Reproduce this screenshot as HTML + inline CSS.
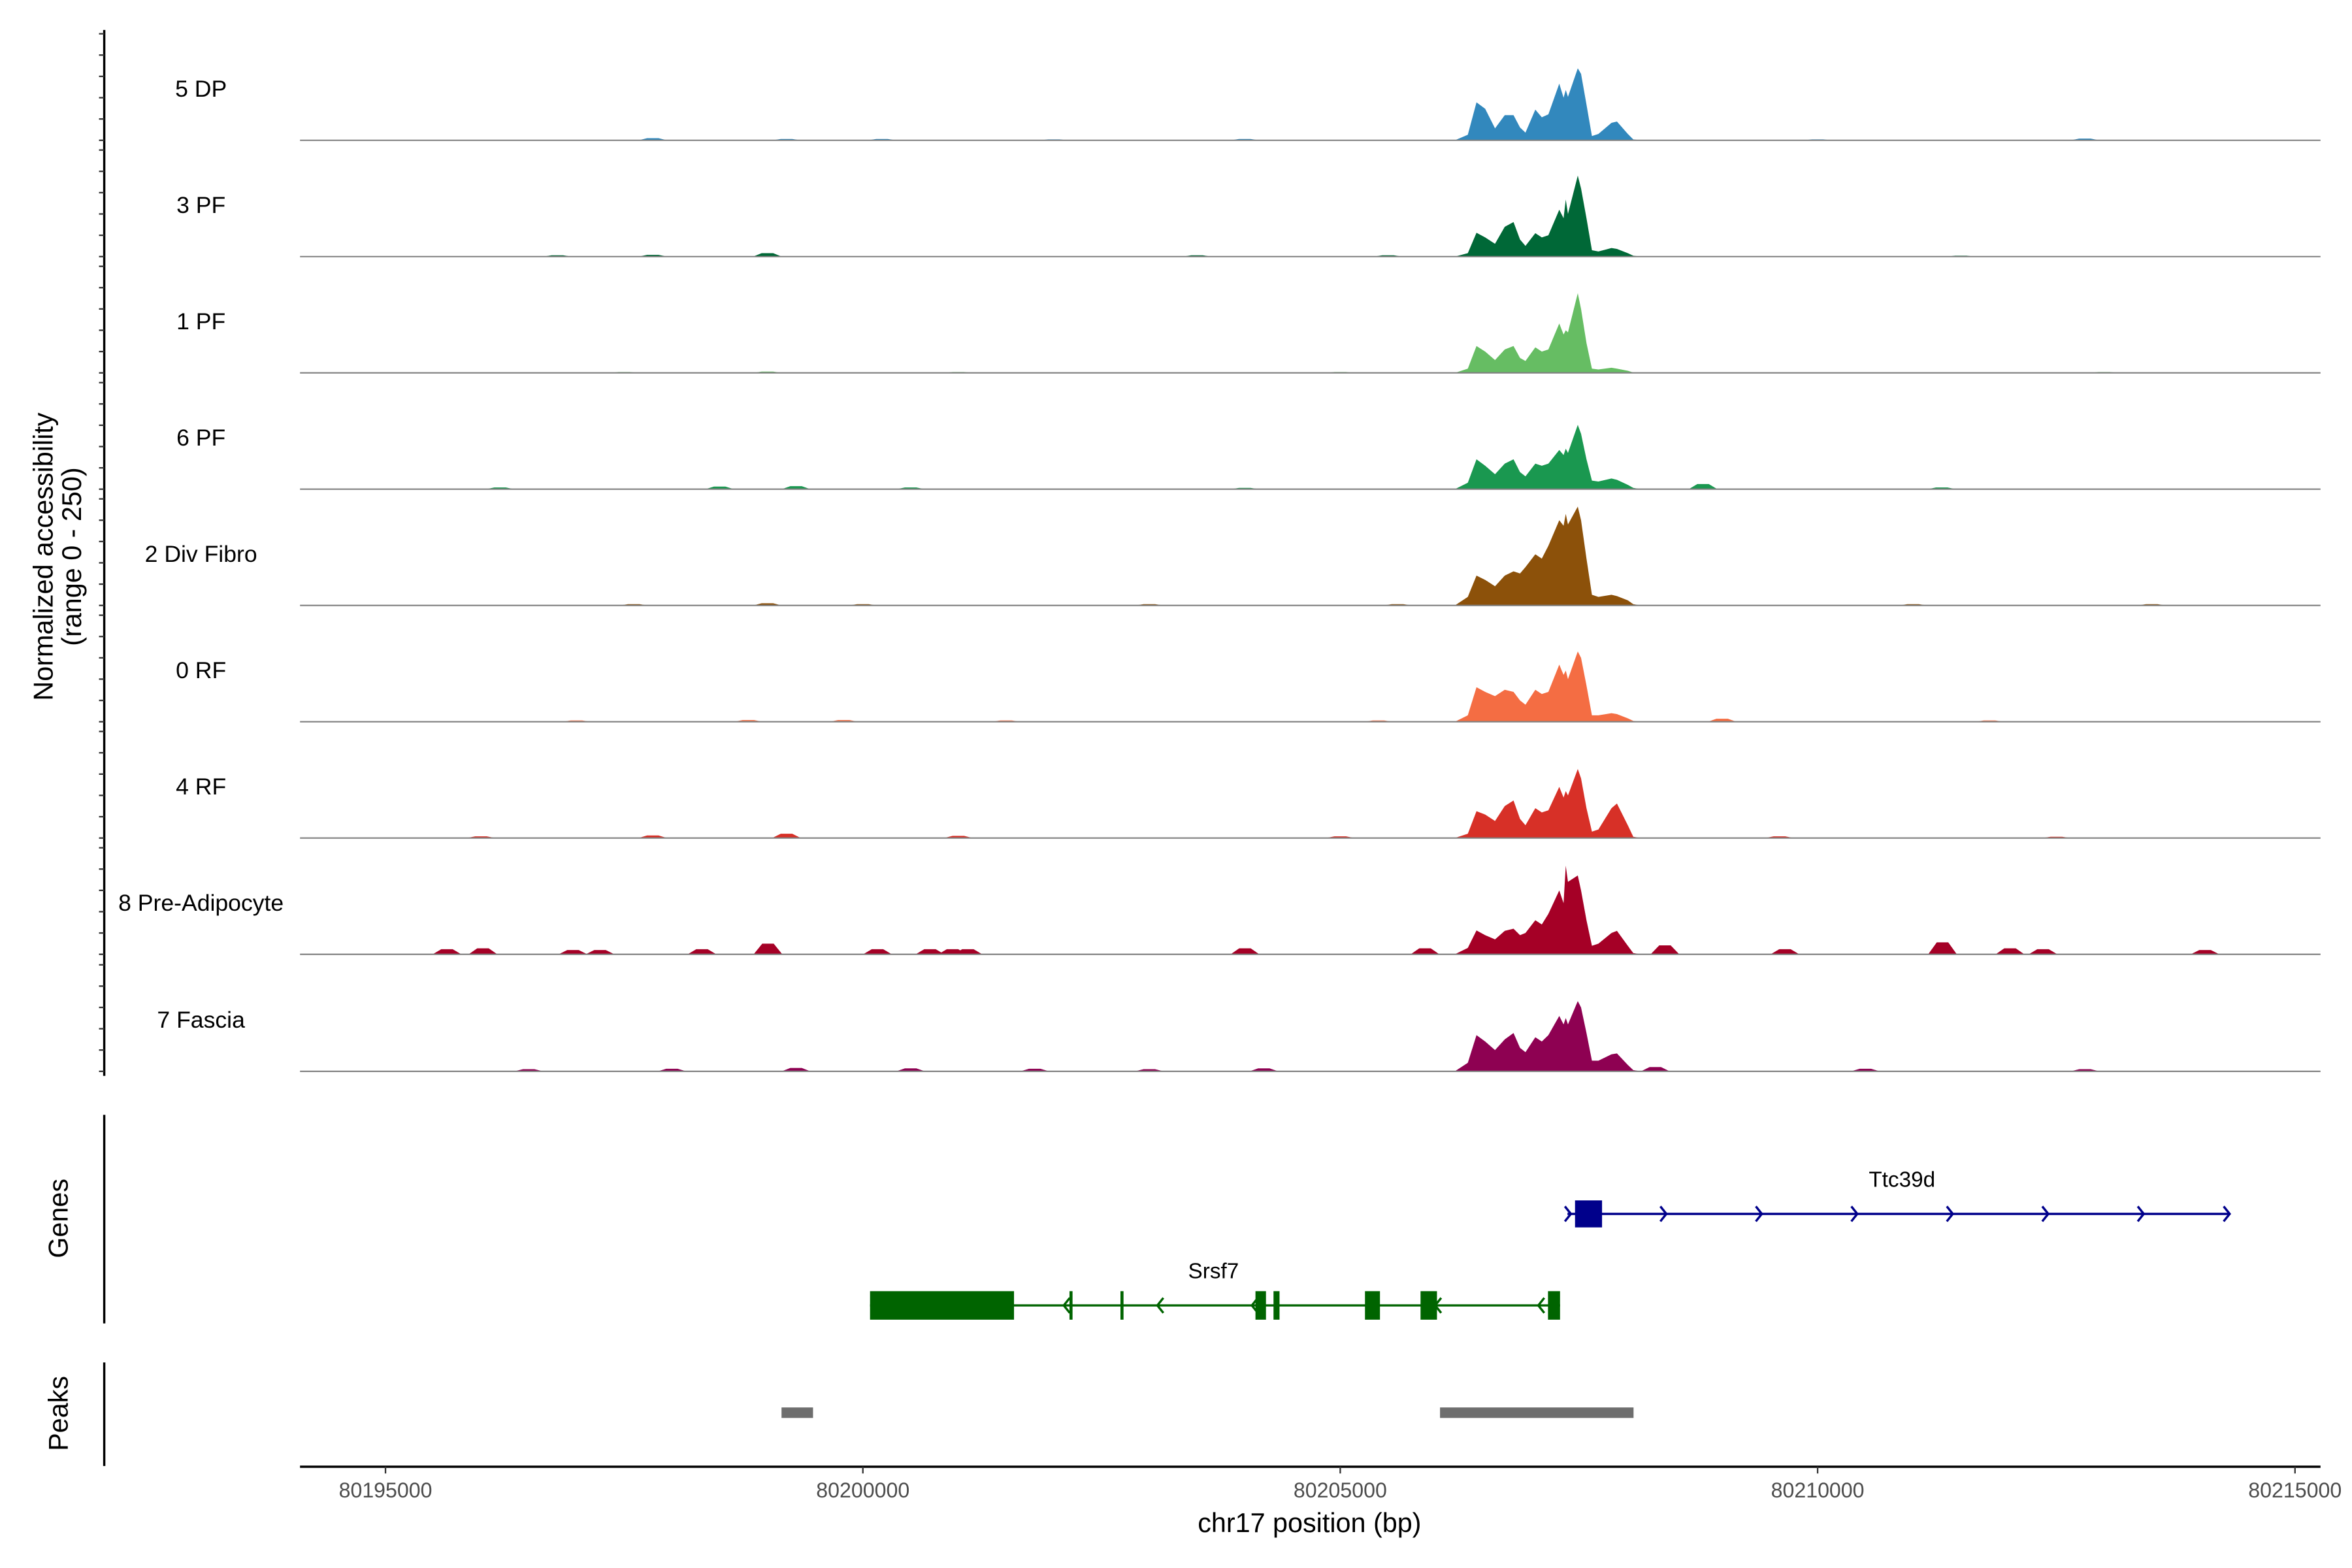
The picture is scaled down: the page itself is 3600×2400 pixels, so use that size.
<!DOCTYPE html>
<html><head><meta charset="utf-8"><style>
html,body{margin:0;padding:0;background:#fff;}
svg{display:block;font-family:"Liberation Sans",Arial,sans-serif;}
</style></head><body>
<svg id="chart" width="3600" height="2400" viewBox="0 0 1568 1045" preserveAspectRatio="none" xmlns="http://www.w3.org/2000/svg">
<rect width="1568" height="1045" fill="#fff"/>
<text transform="translate(35,371) rotate(-90)" text-anchor="middle" font-size="18" fill="#000">Normalized accessibility</text>
<text transform="translate(54,371) rotate(-90)" text-anchor="middle" font-size="18" fill="#000">(range 0 - 250)</text>
<line x1="69.5" y1="20" x2="69.5" y2="717" stroke="#000" stroke-width="1.5"/>
<text transform="translate(45,812) rotate(-90)" text-anchor="middle" font-size="18" fill="#000">Genes</text>
<line x1="69.5" y1="743" x2="69.5" y2="882" stroke="#000" stroke-width="1.5"/>
<text transform="translate(45,942) rotate(-90)" text-anchor="middle" font-size="18" fill="#000">Peaks</text>
<line x1="69.5" y1="908" x2="69.5" y2="977" stroke="#000" stroke-width="1.5"/>
<line x1="200" y1="977.5" x2="1547" y2="977.5" stroke="#000" stroke-width="1.5"/>
<text x="873" y="1021" text-anchor="middle" font-size="18" fill="#000">chr17 position (bp)</text>
<g id="tracks"></g>
<g id="genes"></g>
<g id="peaks"></g>
<g id="xaxis"></g>
</svg>
<script>
const trackNames = ["5 DP","3 PF","1 PF","6 PF","2 Div Fibro","0 RF","4 RF","8 Pre-Adipocyte","7 Fascia"];
const trackColors = ["#3288BD","#006837","#66BD63","#1A9850","#8C510A","#F46D43","#D73027","#A50026","#8E0152"];
const peakPos = [80206200,80206336,80206427,80206518,80206621,80206723,80206815,80206883,80206940,80207043,80207111,80207180,80207294,80207339,80207362,80207385,80207488,80207522,80207579,80207636,80207704,80207841,80207898,80208012,80208069,80208150];
const vals5DP = [0,13,89,74,28,59,59,30,18,72,54,61,133,100,118,102,169,156,84,10,15,41,44,15,2,0];
const vals3PF = [0,8,56,45,30,70,81,40,25,55,45,50,110,90,134,100,190,160,90,15,12,20,18,8,2,0];
const vals1PF = [0,10,63,50,30,55,63,35,28,60,50,55,116,90,100,95,187,150,70,10,8,12,10,5,1,0];
const vals6PF = [0,15,70,55,35,60,70,40,30,60,55,60,92,80,95,85,151,130,70,20,18,25,22,10,3,0];
const vals2Div = [0,20,70,60,45,70,80,75,90,120,110,140,200,187,215,190,232,200,110,25,20,25,22,12,3,0];
const vals0RF = [0,15,81,70,60,75,70,50,40,75,65,70,134,110,120,100,165,150,85,15,15,20,18,8,2,0];
const vals4RF = [0,10,63,55,40,75,88,45,30,70,60,65,120,95,110,100,162,140,70,15,20,70,81,30,3,0];
const vals8PA = [0,15,56,45,35,55,60,45,50,80,70,95,150,120,208,170,185,150,80,20,25,50,55,20,3,0];
const vals7Fa = [0,20,85,70,50,75,90,55,45,80,70,85,130,110,125,110,165,150,90,25,25,40,42,15,3,0];
const trackValues = [vals5DP,vals3PF,vals1PF,vals6PF,vals2Div,vals0RF,vals4RF,vals8PA,vals7Fa];
const bgPos5DP = [80197800,80199200,80200200,80202000,80204000,80210000,80212800];
const bgVal5DP = [5,3,3,2,3,2,4];
const bgPos3PF = [80196800,80197800,80199000,80203500,80205500,80211500];
const bgVal3PF = [3,4,8,3,3,2];
const bgPos1PF = [80197500,80199000,80201000,80205000,80213000];
const bgVal1PF = [2,3,2,2,2];
const bgPos6PF = [80196200,80198500,80199300,80200500,80204000,80208800,80211300];
const bgVal6PF = [4,6,7,4,3,12,4];
const bgPos2Div = [80197600,80199000,80200000,80203000,80205600,80211000,80213500];
const bgVal2Div = [3,5,3,3,3,3,3];
const bgPos0RF = [80197000,80198800,80199800,80201500,80205400,80209000,80211800];
const bgVal0RF = [3,4,4,3,3,7,3];
const bgPos4RF = [80196000,80197800,80199200,80201000,80205000,80209600,80212500];
const bgVal4RF = [4,6,10,5,4,4,3];
const bgPos8PA = [80195644,80196021,80196964,80197247,80198315,80199006,80200153,80200703,80200939,80201100,80204002,80205888,80208401,80209658,80211308,80212015,80212361,80214058];
const bgVal8PA = [12,14,10,10,12,25,12,12,12,12,14,14,21,12,28,14,12,10];
const bgPos7Fa = [80196500,80198000,80199300,80200500,80201800,80203000,80204200,80208300,80210500,80212800];
const bgVal7Fa = [5,6,8,7,6,5,7,10,6,5];
const bgPositions = [bgPos5DP,bgPos3PF,bgPos1PF,bgPos6PF,bgPos2Div,bgPos0RF,bgPos4RF,bgPos8PA,bgPos7Fa];
const bgValues = [bgVal5DP,bgVal3PF,bgVal1PF,bgVal6PF,bgVal2Div,bgVal0RF,bgVal4RF,bgVal8PA,bgVal7Fa];
const xTicks = [80195000,80200000,80205000,80210000,80215000];
const srsf7Exons = [[80200075,80201583],[80202164,80202196],[80202698,80202730],[80204112,80204222],[80204301,80204364],[80205259,80205416],[80205841,80206013],[80207176,80207302]];
const srsf7Span = [80200075,80207302];
const srsf7Arrows = [80202120,80203100,80204090,80206010,80207090];
const ttc39dSpan = [80207380,80214324];
const ttc39dExons = [[80207459,80207742]];
const ttc39dArrows = [80207400,80208400,80209400,80210400,80211400,80212400,80213400,80214300];
const peakRegions = [[80199148,80199478],[80206045,80208072]];

const NS = "http://www.w3.org/2000/svg";
function xs(bp){return 257 + (bp-80195000)*0.06365;}
const trackBase = [93.5,171,248.5,326,403.5,481,558.5,636,714];
const trackH = 71;
function ys(v,i){return trackBase[i] - v/250*trackH;}
function mk(tag,attrs,parent){const e=document.createElementNS(NS,tag);for(const k in attrs)e.setAttribute(k,attrs[k]);parent.appendChild(e);return e;}

const tracks=document.getElementById('tracks');
const yaxisG=mk('g',{},tracks);
for(let i=0;i<trackNames.length;i++){
  for(let t=0;t<=250;t+=50){
    const tk=mk('line',{x1:66,x2:69.5,y1:ys(t,i),y2:ys(t,i),stroke:'#333','stroke-width':1},yaxisG);
    
    
  }
  const g=mk('g',{},tracks);
  
  
  const lbl=mk('text',{x:134,y:trackBase[i]-29,'text-anchor':'middle','font-size':15.5,fill:'#000'},g);
  lbl.textContent=trackNames[i];
  
  
  const pos=peakPos, v=trackValues[i];
  let d='M'+xs(pos[0])+','+trackBase[i];
  for(let k=0;k<pos.length;k++) d+=' L'+xs(pos[k]).toFixed(2)+','+ys(v[k],i).toFixed(2);
  d+=' L'+xs(pos[pos.length-1])+','+trackBase[i]+' Z';
  const area=mk('path',{d:d,fill:trackColors[i]},g);
  
  
  const bp=bgPositions[i], bv=bgValues[i];
  for(let k=0;k<bp.length;k++){
    const x0=xs(bp[k]-150),x1=xs(bp[k]-60),x2=xs(bp[k]+60),x3=xs(bp[k]+150);
    const yy=ys(bv[k],i);
    const b=mk('path',{d:`M${x0},${trackBase[i]} L${x1},${yy} L${x2},${yy} L${x3},${trackBase[i]} Z`,fill:trackColors[i]},g);
    
    
  }
  const base=mk('line',{x1:200,x2:1547,y1:trackBase[i],y2:trackBase[i],stroke:'#7f7f7f','stroke-width':0.9},g);
  
  
}

const genes=document.getElementById('genes');
function drawGene(name,span,exons,arrows,y,h,color,dir,lx,ly){
  const g=mk('g',{},genes);
  
  
  mk('line',{x1:xs(span[0]),x2:xs(span[1]),y1:y,y2:y,stroke:color,'stroke-width':1.5},g);
  for(const e of exons){
    const w=Math.max(2,xs(e[1])-xs(e[0]));
    const r=mk('rect',{x:xs(e[0]),y:y-h/2,width:w,height:h,fill:color},g);
    
    
  }
  for(const a of arrows){
    const x=xs(a);
    const p=mk('path',{d:dir>0?`M${x-3},${y-5} L${x+1},${y} L${x-3},${y+5}`:`M${x+3},${y-5} L${x-1},${y} L${x+3},${y+5}`,stroke:color,fill:'none','stroke-width':1.5},g);
    
    
  }
  const t=mk('text',{x:lx,y:ly,'text-anchor':'middle','font-size':14.5,fill:'#000'},g);
  t.textContent=name;
  
  
}
drawGene('Ttc39d',ttc39dSpan,ttc39dExons,ttc39dArrows,809,18,'#00008B',1,1268,791);
drawGene('Srsf7',srsf7Span,srsf7Exons,srsf7Arrows,870,19,'#006400',-1,809,852);

const peaks=document.getElementById('peaks');
for(const p of peakRegions){
  const r=mk('rect',{x:xs(p[0]),y:938,width:xs(p[1])-xs(p[0]),height:7,fill:'#6e6e6e'},peaks);
  
  
}

const xa=document.getElementById('xaxis');
for(const t of xTicks){
  const l=mk('line',{x1:xs(t),x2:xs(t),y1:977.5,y2:982,stroke:'#333','stroke-width':1},xa);
  
  
  const tx=mk('text',{x:xs(t),y:998,'text-anchor':'middle','font-size':14,fill:'#4d4d4d'},xa);
  tx.textContent=String(t);
  
  
}
</script>
</body></html>
